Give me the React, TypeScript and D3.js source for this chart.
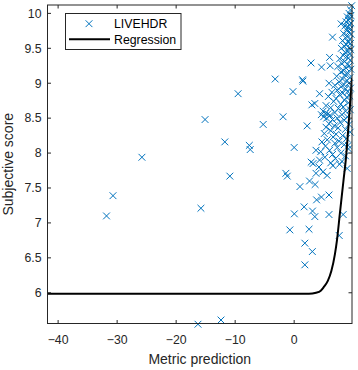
import React from "react";
import * as d3 from "d3";

// scatter data: metric prediction (x) vs subjective score (y)
const metricPred = [
  -31.8, -30.7, -25.8, -16.3, -15.8, -15.1, -12.4, -11.75, -10.9, -9.5,
  -7.6, -7.45, -5.25, -3.22, -1.88, -1.41, -1.17, -0.73, -0.2, 0.0,
  0.03, 0.98, 1.42, 1.48, 1.69, 1.81, 1.81, 2.2, 2.52, 2.6,
  2.85, 2.88, 3.0, 3.08, 3.11, 3.5, 3.5, 3.55, 3.7, 3.8,
  4.3, 4.64, 4.62, 4.2, 3.7, 5.9, 5.9, 7.63, 8.3, 6.5,
  7.95, 9.75, 5.9, 6.0, 6.1, 4.86, 5.59, 6.56, 7.69, 8.98,
  3.2, 9.15,
  // dense cluster, top
  9.55, 9.3, 9.6, 9.0, 9.45, 9.2, 8.8, 9.6, 9.35, 8.6,
  9.1, 9.5, 8.9, 9.25, 8.4, 9.65, 9.0, 8.7, 9.4, 8.2,
  9.15, 9.55, 8.85, 8.5, 9.3, 8.0, 9.6, 9.05, 8.65, 9.4,
  8.3, 8.9, 9.2, 7.7, 9.5, 8.55,
  // 9.0 - 9.3
  8.1, 9.0, 9.35, 7.4, 8.75, 9.6, 8.35, 7.9, 9.15, 8.6,
  7.2, 9.45, 8.2, 8.95, 7.6, 9.25, 8.45, 6.9, 7.95, 9.55,
  8.7, 7.3,
  // 8.5 - 8.9
  9.1, 6.4, 8.25, 7.7, 9.4, 5.8, 8.9, 7.1, 8.5, 6.7,
  9.2, 7.9, 5.4, 8.3, 6.2, 7.5, 9.5, 8.7, 4.9, 6.9,
  5.3, 5.7, 8.1, 6.1, 5.0, 9.0, 7.3, 5.5, 6.5, 8.5,
  4.6,
  // 7.9 - 8.45
  7.8, 5.9, 9.3, 6.8, 5.4, 7.45, 8.7, 6.2, 9.5, 5.1,
  7.1, 8.2, 6.6, 8.9, 5.6, 7.6, 4.7, 6.9, 8.5, 5.3,
  7.3, 9.2, 6.0, 4.5, 7.9, 6.5, 8.7, 5.2, 7.0, 4.3,
  8.1, 6.2,
];

const subjScore = [
  7.1, 7.39, 7.94, 5.55, 7.21, 8.48, 5.61, 8.16, 7.67, 8.85,
  8.11, 8.05, 8.41, 9.06, 8.52, 7.71, 7.67, 6.9, 8.88, 8.08,
  7.13, 7.52, 9.05, 9.03, 7.23, 6.71, 6.4, 8.39, 6.91, 7.6,
  9.29, 7.87, 8.69, 6.59, 7.17, 8.71, 7.09, 7.55, 8.04, 7.33,
  8.85, 9.23, 7.37, 7.8, 7.71, 7.4, 7.12, 6.82, 7.12, 9.66,
  9.85, 10.11, 9.0, 9.37, 9.25, 7.73, 7.68, 7.82, 7.84, 7.78,
  7.85, 8.11,
  10.05, 10.0, 9.97, 9.95, 9.93, 9.9, 9.88, 9.86, 9.84, 9.82,
  9.8, 9.78, 9.76, 9.73, 9.71, 9.7, 9.68, 9.65, 9.63, 9.61,
  9.59, 9.57, 9.55, 9.53, 9.51, 9.5, 9.48, 9.46, 9.44, 9.42,
  9.4, 9.38, 9.36, 9.35, 9.33, 9.31,
  9.28, 9.27, 9.25, 9.24, 9.22, 9.2, 9.18, 9.16, 9.14, 9.12,
  9.1, 9.08, 9.06, 9.04, 9.02, 9.0, 8.98, 8.97, 8.95, 8.93,
  8.92, 8.9,
  8.88, 8.87, 8.86, 8.84, 8.82, 8.81, 8.8, 8.78, 8.76, 8.74,
  8.72, 8.7, 8.68, 8.66, 8.65, 8.64, 8.62, 8.6, 8.6, 8.58,
  8.57, 8.56, 8.55, 8.54, 8.52, 8.52, 8.5, 8.5, 8.48, 8.47,
  8.55,
  8.44, 8.42, 8.41, 8.39, 8.37, 8.36, 8.34, 8.32, 8.3, 8.28,
  8.27, 8.25, 8.23, 8.21, 8.19, 8.17, 8.16, 8.14, 8.12, 8.1,
  8.08, 8.06, 8.04, 8.02, 8.0, 7.98, 7.96, 7.94, 7.92, 7.9,
  7.88, 7.86,
];

// regression curve
const regX = [-41.8, 2.5, 3.7, 4.5, 5.0, 5.7, 6.3, 6.9, 7.25, 7.75, 8.35, 8.8, 9.3, 9.8];
const regY = [5.985, 5.985, 6.0, 6.03, 6.08, 6.17, 6.31, 6.55, 6.75, 7.14, 7.6, 7.95, 8.5, 9.08];

const xTicks = [-40, -30, -20, -10, 0];
const yTicks = [6, 6.5, 7, 7.5, 8, 8.5, 9, 9.5, 10];

const W = 358;
const H = 370;
const margin = { top: 5, right: 6, bottom: 46.5, left: 47.5 };
const FONT = "'Liberation Sans', Arial, Helvetica, sans-serif";
const BLUE = "#0072BD";
const AX = "#262626";

const fmt = (v: number) => String(v).replace("-", "\u2212");

const Cross = ({ cx, cy, r = 3.4 }: { cx: number; cy: number; r?: number }) => (
  <g stroke={BLUE} strokeWidth={1} fill="none">
    <line x1={cx - r} y1={cy - r} x2={cx + r} y2={cy + r} />
    <line x1={cx - r} y1={cy + r} x2={cx + r} y2={cy - r} />
  </g>
);

export default function App() {
  const x0 = margin.left;
  const x1 = W - margin.right;
  const y0 = margin.top;
  const y1 = H - margin.bottom;

  const x = d3.scaleLinear().domain([-41.8, 9.8]).range([x0, x1]);
  const y = d3.scaleLinear().domain([5.56, 10.12]).range([y1, y0]);

  const pts = metricPred.map((m, i) => ({ m, s: subjScore[i] }));
  const reg = regX.map((v, i) => [v, regY[i]] as [number, number]);

  const line = d3
    .line<[number, number]>()
    .x((d) => x(d[0]))
    .y((d) => y(d[1]))
    .curve(d3.curveMonotoneX);

  const tl = 3.5;

  return (
    <svg
      width={W}
      height={H}
      style={{ position: "absolute", left: 0, top: 0, background: "#fff" }}
      fontFamily={FONT}
    >
      <defs>
        <clipPath id="plot">
          <rect x={x0} y={y0} width={x1 - x0} height={y1 - y0} />
        </clipPath>
      </defs>

      {/* points */}
      <g>
        {pts.map((p, i) => (
          <Cross key={i} cx={x(p.m)} cy={y(p.s)} />
        ))}
      </g>

      {/* regression */}
      <path d={line(reg) ?? ""} fill="none" stroke="#000" strokeWidth={2} clipPath="url(#plot)" />

      {/* axes box */}
      <rect x={x0} y={y0} width={x1 - x0} height={y1 - y0} fill="none" stroke={AX} strokeWidth={1} />

      {/* x ticks */}
      {xTicks.map((t) => (
        <g key={t}>
          <line x1={x(t)} x2={x(t)} y1={y1} y2={y1 - tl} stroke={AX} />
          <line x1={x(t)} x2={x(t)} y1={y0} y2={y0 + tl} stroke={AX} />
          <text x={x(t)} y={y1 + 20} fontSize={12.3} textAnchor="middle" fill={AX}>
            {fmt(t)}
          </text>
        </g>
      ))}

      {/* y ticks */}
      {yTicks.map((t) => (
        <g key={t}>
          <line x1={x0} x2={x0 + tl} y1={y(t)} y2={y(t)} stroke={AX} />
          <line x1={x1} x2={x1 - tl} y1={y(t)} y2={y(t)} stroke={AX} />
          <text x={x0 - 6} y={y(t)} dy="0.35em" fontSize={12.3} textAnchor="end" fill={AX}>
            {fmt(t)}
          </text>
        </g>
      ))}

      {/* axis labels */}
      <text x={(x0 + x1) / 2} y={364} fontSize={14} textAnchor="middle" fill={AX}>
        Metric prediction
      </text>
      <text
        transform={`translate(13, ${(y0 + y1) / 2}) rotate(-90)`}
        fontSize={14}
        textAnchor="middle"
        fill={AX}
      >
        Subjective score
      </text>

      {/* legend */}
      <g>
        <rect x={65.5} y={13.5} width={115.5} height={36} fill="#fff" stroke={AX} strokeWidth={1} />
        <Cross cx={89} cy={23.7} />
        <text x={114} y={23.7} dy="0.35em" fontSize={12.3} fill="#000">
          LIVEHDR
        </text>
        <line x1={69} x2={110} y1={39.3} y2={39.3} stroke="#000" strokeWidth={2} />
        <text x={114} y={39.3} dy="0.35em" fontSize={12.3} fill="#000">
          Regression
        </text>
      </g>
    </svg>
  );
}
